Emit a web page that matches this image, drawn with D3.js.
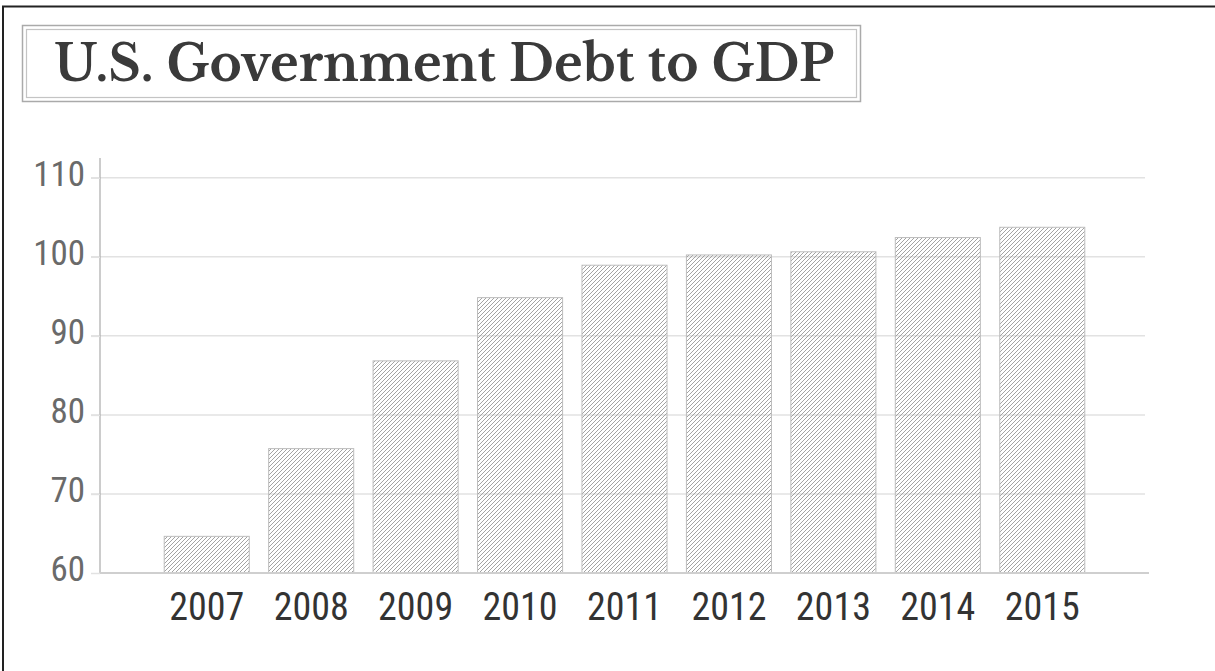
<!DOCTYPE html>
<html>
<head>
<meta charset="utf-8">
<script src="https://cdn.jsdelivr.net/npm/d3@7"></script>
<style>
  body { margin: 0; background: #fff; }
</style>
</head>
<body>
<div id="container"></div>
<script>
const years = ["2007", "2008", "2009", "2010", "2011", "2012", "2013", "2014", "2015"];
const debtToGdp = [64.7, 75.8, 86.9, 94.9, 99.0, 100.3, 100.7, 102.5, 103.8];
const yTicks = [60, 70, 80, 90, 100, 110];
const title = "U.S. Government Debt to GDP";

const width = 1215;
const height = 671;
const margin = { top: 158, bottom: 98, left: 100, right: 66 };

const svg = d3.select("#container")
    .append("svg")
    .attr("width", width)
    .attr("height", height)
    .attr("viewBox", [0, 0, width, height]);

// hatch fill for the bars
svg.append("defs")
    .append("pattern")
    .attr("id", "hatch")
    .attr("patternUnits", "userSpaceOnUse")
    .attr("width", 4)
    .attr("height", 4)
    .append("path")
    .attr("d", "M-1,1 l2,-2 M0,4 l4,-4 M3,5 l2,-2")
    .attr("stroke", "#999")
    .attr("stroke-width", 0.9);

// page frame
svg.append("line").attr("x1", 2).attr("x2", width).attr("y1", 6.5).attr("y2", 6.5)
    .attr("stroke", "#222").attr("stroke-width", 2);
svg.append("line").attr("x1", 3).attr("x2", 3).attr("y1", 6).attr("y2", height)
    .attr("stroke", "#222").attr("stroke-width", 2);

// title box (double border)
svg.append("rect").attr("x", 22.5).attr("y", 25.5).attr("width", 838).attr("height", 76)
    .attr("fill", "none").attr("stroke", "#aaa").attr("stroke-width", 1.5);
svg.append("rect").attr("x", 26.5).attr("y", 29.5).attr("width", 830).attr("height", 68)
    .attr("fill", "none").attr("stroke", "#c4c4c4").attr("stroke-width", 1.2);
svg.append("text")
    .attr("x", 54)
    .attr("y", 81)
    .attr("fill", "#3a3a3a")
    .style("font-family", "'Libre Baskerville', 'Noto Serif', serif")
    .style("font-weight", "bold")
    .style("font-size", "49px")
    .text(title);

const x = d3.scaleBand()
    .domain(years)
    .range([margin.left, width - margin.right])
    .paddingInner(0.176)
    .paddingOuter(0.61);

const y = d3.scaleLinear()
    .domain([60, 112.5])
    .range([height - margin.bottom, margin.top]);

// gridlines
svg.append("g")
    .selectAll("line")
    .data(yTicks.slice(1))
    .join("line")
    .attr("x1", 91)
    .attr("x2", 1145)
    .attr("y1", d => y(d))
    .attr("y2", d => y(d))
    .attr("stroke", "#e2e2e2")
    .attr("stroke-width", 1.5);

// y axis
const yAxis = svg.append("g")
    .attr("transform", `translate(${margin.left},0)`)
    .call(d3.axisLeft(y).tickValues(yTicks).tickSize(9).tickPadding(6));
yAxis.select(".domain").attr("stroke", "#aaa").attr("stroke-width", 1.2)
    .attr("d", `M0,${y(112.5)}V${y(60)}`);
yAxis.selectAll(".tick line").attr("stroke", "#e2e2e2").attr("stroke-width", 1.5);
yAxis.selectAll(".tick text")
    .attr("fill", "#6a6a6a")
    .attr("dy", "0.22em")
    .style("font-family", "'Roboto Condensed', sans-serif")
    .style("font-size", "35px");

// bars
svg.append("g")
    .selectAll("rect")
    .data(debtToGdp)
    .join("rect")
    .attr("x", (d, i) => x(years[i]) + 0.5)
    .attr("y", d => y(d) + 0.5)
    .attr("width", x.bandwidth() - 1)
    .attr("height", d => y(60) - y(d) - 0.5)
    .attr("fill", "url(#hatch)")
    .attr("stroke", "#bdbdbd")
    .attr("stroke-width", 1);

// x axis
const xAxis = svg.append("g")
    .attr("transform", `translate(0,${y(60)})`)
    .call(d3.axisBottom(x).tickSize(0).tickPadding(20));
xAxis.select(".domain").attr("stroke", "#cfcfcf").attr("stroke-width", 2)
    .attr("d", `M${margin.left},0H1149`);
xAxis.selectAll(".tick text")
    .attr("fill", "#333")
    .style("font-family", "'Roboto Condensed', sans-serif")
    .style("font-size", "38px");
</script>
</body>
</html>
